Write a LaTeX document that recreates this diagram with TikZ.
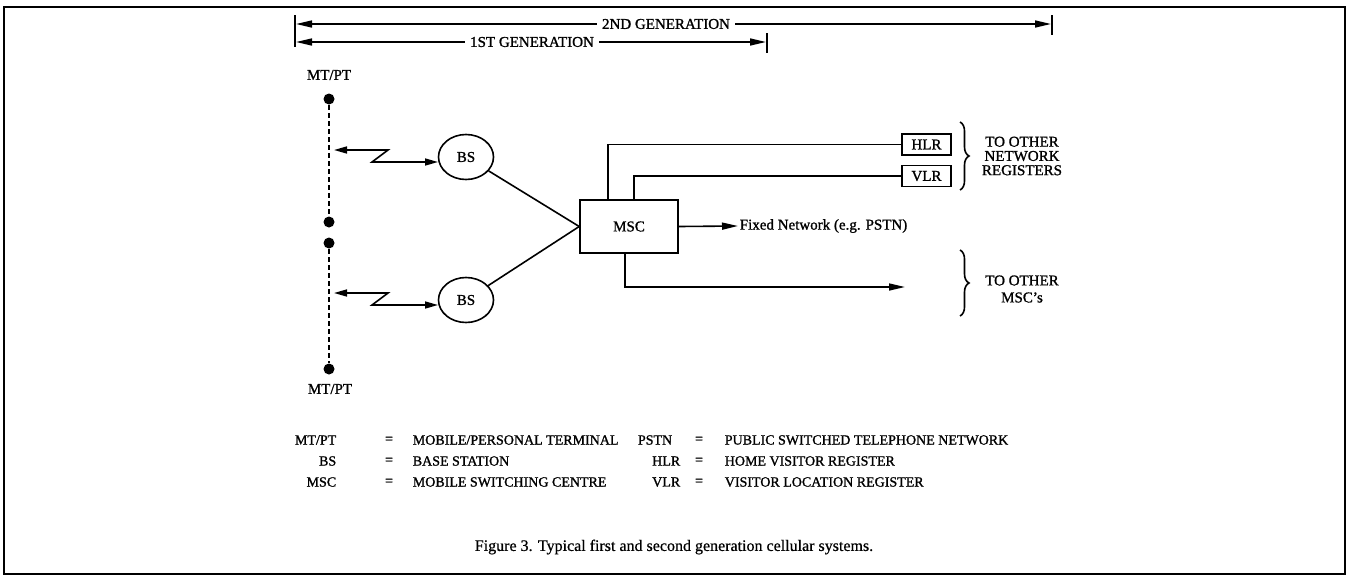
\documentclass[tikz,border=0pt]{standalone}
\usepackage{fontspec}
\setmainfont{Liberation Serif}
\usetikzlibrary{arrows.meta,shapes.geometric,decorations.pathreplacing,calc}
\newcommand\myfnt[1]{\fontsize{#1}{#1}\selectfont\addfontfeature{FakeBold=1.2}}
\begin{document}
\begin{tikzpicture}[x=1pt,y=-1pt,
 line width=1.6pt,
 lab/.style={font=\myfnt{15}, inner sep=1pt},
 leg/.style={font=\myfnt{14}, inner sep=1pt},
 dot/.style={circle, fill=black, minimum size=11pt, inner sep=0pt},
 dashline/.style={line width=2.6pt, dash pattern=on 5pt off 3pt},
 bsnode/.style={ellipse, draw, minimum width=55pt, minimum height=45pt, inner sep=0pt, font=\myfnt{15}},
 regbox/.style={draw, rectangle, minimum width=49pt, minimum height=21pt, inner sep=0pt, font=\myfnt{15}},
 mscbox/.style={draw, rectangle, minimum width=98pt, minimum height=53pt, inner sep=0pt, font=\myfnt{15}},
 tip/.style={-{Triangle[length=16pt,width=7pt]}},
 dtip/.style={{Triangle[length=16pt,width=7pt]}-{Triangle[length=16pt,width=7pt]}},
 rtip/.style={{Triangle[length=13pt,width=7pt]}-{Triangle[length=13pt,width=7pt]}},
 brc/.style={decorate, decoration={brace, amplitude=9pt}},
 gen/.style={lab, fill=white, inner xsep=5pt},
]
\useasboundingbox (0,0) rectangle (1348,576);
\draw[line width=2.5pt] (4,7) rectangle (1345,574);

% generation arrows
\coordinate (tl1) at (295,15); \coordinate (tl2) at (295,47);
\coordinate (tr2a) at (1052,15); \coordinate (tr2b) at (1052,35);
\coordinate (tr1a) at (767,33); \coordinate (tr1b) at (767,53);
\coordinate (g2l) at (296,24); \coordinate (g2r) at (1051,24);
\coordinate (g1l) at (296,42); \coordinate (g1r) at (766,42);
\draw (tl1) -- (tl2);
\draw (tr2a) -- (tr2b);
\draw (tr1a) -- (tr1b);
\draw[dtip] (g2l) -- (g2r);
\draw[dtip] (g1l) -- (g1r);
\node[gen] (gen2) at (666,24) {2ND GENERATION};
\node[gen] (gen1) at (532,42) {1ST GENERATION};

% terminals
\node[dot] (d1) at (329,99) {};
\node[dot] (d2) at (329,222) {};
\node[dot] (d3) at (329,243) {};
\node[dot] (d4) at (329,369) {};
\draw[dashline] (d1) -- (d2);
\draw[dashline] (d3) -- (d4);
\node[lab] (mt1) at (329,75) {MT/PT};
\node[lab] (mt2) at (330,389) {MT/PT};

% base stations
\node[bsnode] (bs1) at (466,157) {BS};
\node[bsnode] (bs2) at (466,300) {BS};

% radio links
\coordinate (a1) at (334,150); \coordinate (z1) at (388,150); \coordinate (z2) at (372,162); \coordinate (b1) at (438,162);
\draw[rtip] (a1) -- (z1) -- (z2) -- (b1);
\coordinate (a2) at (334,293); \coordinate (z3) at (388,293); \coordinate (z4) at (372,305); \coordinate (b2) at (438,305);
\draw[rtip] (a2) -- (z3) -- (z4) -- (b2);

% MSC
\node[mscbox] (msc) at (629,226.5) {MSC};
\draw (bs1) -- (msc.west);
\draw (bs2) -- (msc.west);

% registers
\node[regbox] (hlr) at (926.5,144.5) {HLR};
\node[regbox] (vlr) at (926.5,176) {VLR};
\coordinate (h0) at ($(msc.north west)+(29,0)$);
\coordinate (v0) at ($(msc.north west)+(55,0)$);
\draw (h0) |- (hlr.west);
\draw (v0) |- (vlr.west);

% fixed network
\node[lab, anchor=west] (fixed) at (738,226) {Fixed Network (e.g. PSTN)};
\draw[tip] (msc.east) -- (fixed.west);

% other MSCs
\coordinate (m0) at ($(msc.south west)+(46,0)$);
\coordinate (oth) at (905,287);
\draw[tip] (m0) |- (oth);

% braces
\coordinate (br1a) at (960,122); \coordinate (br1b) at (960,190);
\draw[brc] (br1a) -- (br1b);
\node[lab, align=center, font=\myfnt{15}\linespread{0.95}\selectfont] (reg) at (1022,156) {TO OTHER\\NETWORK\\REGISTERS};
\coordinate (br2a) at (960,250); \coordinate (br2b) at (960,316);
\draw[brc] (br2a) -- (br2b);
\node[lab, align=center] (omsc) at (1022,289) {TO OTHER\\[2pt]MSC's};

% legend
\begin{scope}[every node/.style={leg}]
\node[anchor=east] (l1a) at (338,440) {MT/PT};
\node (l1e) at (389,440) {=};
\node[anchor=west] (l1d) at (411,440) {MOBILE/PERSONAL TERMINAL};
\node[anchor=east] (l2a) at (338,461) {BS};
\node (l2e) at (389,461) {=};
\node[anchor=west] (l2d) at (411,461) {BASE STATION};
\node[anchor=east] (l3a) at (338,482) {MSC};
\node (l3e) at (389,482) {=};
\node[anchor=west] (l3d) at (411,482) {MOBILE SWITCHING CENTRE};
\node[anchor=east] (r1a) at (674,440) {PSTN};
\node (r1e) at (699,440) {=};
\node[anchor=west] (r1d) at (723,440) {PUBLIC SWITCHED TELEPHONE NETWORK};
\node[anchor=east] (r2a) at (682,461) {HLR};
\node (r2e) at (699,461) {=};
\node[anchor=west] (r2d) at (723,461) {HOME VISITOR REGISTER};
\node[anchor=east] (r3a) at (682,482) {VLR};
\node (r3e) at (699,482) {=};
\node[anchor=west] (r3d) at (723,482) {VISITOR LOCATION REGISTER};
\end{scope}

\node[font=\fontsize{16}{16}\selectfont\addfontfeature{FakeBold=0.6}, inner sep=1pt] (cap) at (674,547) {Figure 3. Typical first and second generation cellular systems.};
\end{tikzpicture}
\end{document}
